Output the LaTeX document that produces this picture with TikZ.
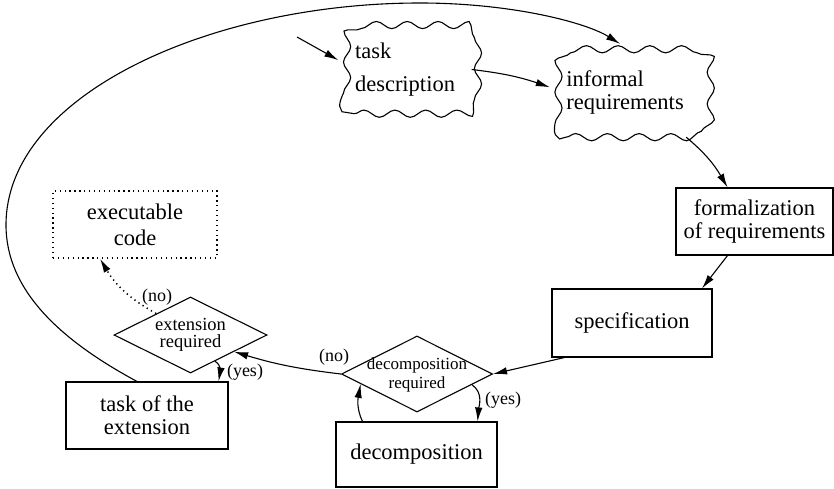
\documentclass[tikz,border=0pt]{standalone}
\usepackage{fontspec}
\setmainfont{Liberation Serif}
\usetikzlibrary{arrows.meta,shapes.geometric,decorations.pathmorphing}
\begin{document}
\begin{tikzpicture}[x=1pt,y=1pt,
  every node/.style={inner sep=0pt},
  lw/.style={line width=1.1pt},
  big/.style={font=\fontsize{22.5}{23}\selectfont},
  small/.style={font=\fontsize{18}{15}\selectfont},
  box/.style={draw, lw, rectangle, big, align=center},
  dotbox/.style={draw, line width=1.5pt, dash pattern=on 1.3pt off 3.6pt, rectangle, big, align=center},
  cloudbox/.style={rectangle, big, align=left},
  wavy/.style={lw, decorate, decoration={snake, amplitude=3.6pt, segment length=#1}},
  dia/.style={draw, lw, diamond},
  arr/.style={lw, -{Latex[length=14pt,width=7.5pt]}},
  dotarr/.style={line width=1.5pt, dash pattern=on 1.3pt off 3.6pt, -{Latex[length=14pt,width=7.5pt]}},
]
\useasboundingbox (0,0) rectangle (834,488);

% nodes
\node[cloudbox, minimum width=133pt, minimum height=88pt, font=\fontsize{22.5}{33}\selectfont] (td) at (405,418.5) {task\\description};
\node[cloudbox, minimum width=150pt, minimum height=89pt] (inf) at (625,395.5) {informal\\requirements};
\foreach \n/\s in {td/30.9pt,inf/31.7pt}{
  \draw[wavy=\s] ([xshift=16pt]\n.south west) -- ([xshift=-16pt]\n.south east)
    arc[start angle=-90, end angle=0, radius=16pt] -- ([yshift=-16pt]\n.north east)
    arc[start angle=0, end angle=90, radius=16pt] -- ([xshift=16pt]\n.north west)
    arc[start angle=90, end angle=180, radius=16pt] -- ([yshift=16pt]\n.south west)
    arc[start angle=180, end angle=270, radius=16pt] -- cycle;
}
\node[box, minimum width=157pt, minimum height=67pt] (formal) at (754.5,266.5) {formalization\\of requirements};
\node[box, minimum width=160pt, minimum height=68pt] (spec) at (632,165) {specification};
\node[dia, minimum width=151pt, minimum height=76pt] (decdia) at (417,114) {};
\node[align=center, font=\fontsize{17}{19}\selectfont] (dectext) at (417,113) {decomposition\\required};
\node[box, minimum width=161pt, minimum height=65pt] (decbox) at (416.5,33.5) {decomposition};
\node[dia, minimum width=153pt, minimum height=76pt] (extdia) at (190.5,153) {};
\node[align=center, font=\fontsize{18.5}{17}\selectfont] (exttext) at (190.5,153) {extension\\required};
\node[box, minimum width=162pt, minimum height=67pt] (taskext) at (147,72.5) {task of the\\extension};
\node[dotbox, minimum width=164pt, minimum height=67pt, font=\fontsize{22.5}{26}\selectfont] (exec) at (135,263.5) {executable\\code};

% connectors
\coordinate (fs) at (297,451);
\draw[arr] (fs) -- (td.172);
\draw[arr] (td.east) to[bend left=6] (inf.176);
\draw[arr] ([xshift=-10pt]taskext.north) .. controls (60,148) and (6,198) .. (6,263)
  .. controls (6,393) and (210,485) .. (420,485)
  .. controls (510,485) and (585,466) .. ([shift={(-5pt,4pt)}]inf.north);
\draw[arr] ([xshift=-14pt]inf.south east) to[out=-40,in=120] ([xshift=-27pt]formal.north);
\draw[arr] ([xshift=-27pt]formal.south) -- ([xshift=70pt]spec.north);
\draw[arr] ([xshift=13pt]spec.south west) -- (decdia.east);
\draw[arr] (decdia.west) to[bend left=5] (extdia.-21);
\node[small] (lno1) at (334,131) {(no)};
\draw[arr] (decdia.-11) to[out=-35,in=85] ([xshift=-20pt]decbox.north east);
\node[small] (lyes1) at (503,88) {(yes)};
\draw[arr] ([xshift=27pt]decbox.north west) to[out=115,in=-100] (decdia.190);
\draw[arr] (extdia.-47) to[out=-30,in=80] ([xshift=-10pt]taskext.north east);
\node[small] (lyes2) at (245,115.5) {(yes)};
\draw[dotarr] (extdia.148) to[bend left=15] ([xshift=-35pt]exec.south);
\node[small] (lno2) at (157,191) {(no)};
\end{tikzpicture}
\end{document}
